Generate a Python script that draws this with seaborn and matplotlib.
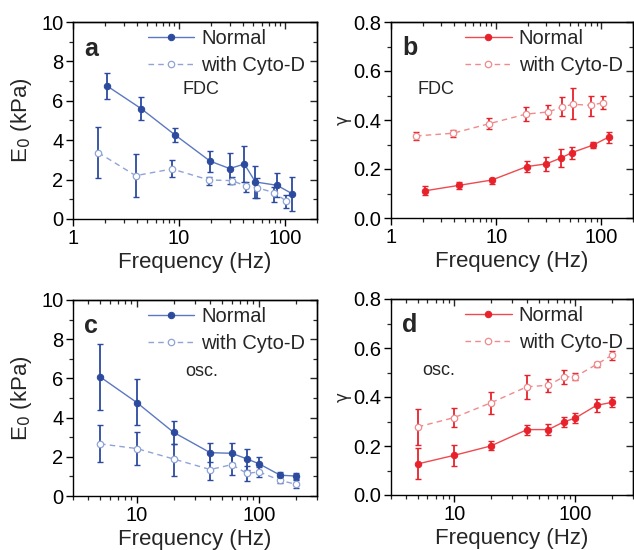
import numpy as np
import pandas as pd
import matplotlib
matplotlib.use("Agg")
import matplotlib.pyplot as plt
import seaborn as sns

# ---------------- data ----------------
# Panel a/b (FDC)
fdc_f_normal = [2.1, 4.4, 9.1, 19.6, 30.0, 41.3, 52.5, 84.0, 117.0]
fdc_f_cyto = [1.73, 3.9, 8.6, 19.2, 31.4, 42.6, 54.0, 79.0, 103.0]

a_normal = [6.75, 5.60, 4.28, 2.94, 2.56, 2.79, 1.88, 1.71, 1.28]
a_normal_hi = [7.40, 6.17, 4.61, 3.47, 3.34, 3.69, 2.69, 2.32, 2.15]
a_normal_lo = [6.08, 5.02, 3.93, 2.41, 1.78, 1.90, 1.05, 1.10, 0.41]
a_cyto = [3.37, 2.20, 2.54, 1.98, 1.95, 1.68, 1.59, 1.34, 0.90]
a_cyto_hi = [4.69, 3.29, 2.97, 2.15, 2.12, 1.90, 2.10, 1.64, 1.22]
a_cyto_lo = [2.07, 1.10, 2.12, 1.73, 1.78, 1.36, 1.05, 0.88, 0.54]

b_normal = [0.111, 0.133, 0.155, 0.210, 0.221, 0.245, 0.267, 0.298, 0.330]
b_normal_hi = [0.129, 0.145, 0.165, 0.232, 0.248, 0.280, 0.289, 0.309, 0.350]
b_normal_lo = [0.095, 0.118, 0.138, 0.186, 0.190, 0.207, 0.241, 0.285, 0.305]
b_cyto = [0.335, 0.346, 0.385, 0.424, 0.433, 0.454, 0.464, 0.460, 0.470]
b_cyto_hi = [0.353, 0.360, 0.407, 0.454, 0.460, 0.495, 0.529, 0.500, 0.497]
b_cyto_lo = [0.317, 0.330, 0.363, 0.397, 0.404, 0.415, 0.404, 0.417, 0.446]

# Panel c/d (oscillatory)
osc_f = [5, 10, 20, 40, 60, 80, 100, 150, 200]

c_normal = [6.08, 4.77, 3.25, 2.21, 2.18, 1.89, 1.65, 1.06, 1.02]
c_normal_hi = [7.73, 5.95, 3.83, 2.71, 2.71, 2.39, 1.99, 1.21, 1.18]
c_normal_lo = [4.41, 3.60, 2.67, 1.72, 1.67, 1.35, 1.29, 0.87, 0.85]
c_cyto = [2.66, 2.42, 1.89, 1.35, 1.60, 1.15, 1.23, 0.80, 0.60]
c_cyto_hi = [3.63, 3.25, 2.67, 2.13, 2.13, 1.52, 1.50, 0.97, 0.82]
c_cyto_lo = [1.74, 1.60, 1.00, 0.80, 1.09, 0.78, 0.97, 0.68, 0.41]

d_normal = [0.127, 0.162, 0.200, 0.267, 0.267, 0.298, 0.314, 0.366, 0.378]
d_normal_hi = [0.190, 0.205, 0.219, 0.287, 0.291, 0.318, 0.333, 0.390, 0.399]
d_normal_lo = [0.064, 0.118, 0.182, 0.244, 0.244, 0.276, 0.295, 0.340, 0.358]
d_cyto = [0.278, 0.316, 0.376, 0.442, 0.448, 0.482, 0.483, 0.533, 0.570]
d_cyto_hi = [0.350, 0.354, 0.419, 0.490, 0.472, 0.509, 0.497, 0.541, 0.587]
d_cyto_lo = [0.204, 0.276, 0.332, 0.393, 0.422, 0.452, 0.468, 0.524, 0.552]

series_labels = ["Normal", "with Cyto-D"]
panel_letters = ["a", "b", "c", "d"]
method_labels = ["FDC", "FDC", "osc.", "osc."]

# ---------------- style ----------------
sns.set_theme(style="ticks")
plt.rcParams["font.family"] = ["Liberation Sans", "DejaVu Sans"]
plt.rcParams["axes.linewidth"] = 1.0

BLUE_DARK = "#2c4a9e"
BLUE_LINE = "#5b78c2"
BLUE_LIGHT = "#8fa3d6"
RED_DARK = "#e8222b"
RED_LINE = "#ee4a4f"
RED_LIGHT = "#f08a8c"

fig = plt.figure(figsize=(6.34, 5.5), dpi=100)

W, H = 634.0, 550.0
def rect(l, r, t, b):
    return [l / W, (H - b) / H, (r - l) / W, (b - t) / H]

axes = [
    fig.add_axes(rect(73, 317, 22, 219)),
    fig.add_axes(rect(391, 633, 22, 218)),
    fig.add_axes(rect(73, 317, 300, 496)),
    fig.add_axes(rect(391, 633, 299, 495)),
]

panels = [
    (fdc_f_normal, a_normal, a_normal_lo, a_normal_hi, fdc_f_cyto, a_cyto, a_cyto_lo, a_cyto_hi),
    (fdc_f_normal, b_normal, b_normal_lo, b_normal_hi, fdc_f_cyto, b_cyto, b_cyto_lo, b_cyto_hi),
    (osc_f, c_normal, c_normal_lo, c_normal_hi, osc_f, c_cyto, c_cyto_lo, c_cyto_hi),
    (osc_f, d_normal, d_normal_lo, d_normal_hi, osc_f, d_cyto, d_cyto_lo, d_cyto_hi),
]

for i, (ax, p) in enumerate(zip(axes, panels)):
    fn, yn, ynl, ynh, fc, yc, ycl, ych = p
    is_E = i in (0, 2)
    dark, line, light = (BLUE_DARK, BLUE_LINE, BLUE_LIGHT) if is_E else (RED_DARK, RED_LINE, RED_LIGHT)

    # error bars
    ax.errorbar(fc, yc, yerr=[np.array(yc) - np.array(ycl), np.array(ych) - np.array(yc)],
                fmt="none", ecolor=dark, elinewidth=1.3, capsize=2.3, capthick=1.0, zorder=2)
    ax.errorbar(fn, yn, yerr=[np.array(yn) - np.array(ynl), np.array(ynh) - np.array(yn)],
                fmt="none", ecolor=dark, elinewidth=1.3, capsize=2.3, capthick=1.0, zorder=2)

    dfn = pd.DataFrame({"f": fn, "v": yn})
    dfc = pd.DataFrame({"f": fc, "v": yc})
    sns.lineplot(data=dfc, x="f", y="v", ax=ax, color=light, linewidth=1.0,
                 linestyle=(0, (4, 3)), marker="o", markersize=4.6, markerfacecolor="white",
                 markeredgecolor=light, markeredgewidth=0.9, label=series_labels[1], zorder=3,
                 estimator=None, sort=False)
    sns.lineplot(data=dfn, x="f", y="v", ax=ax, color=line, linewidth=1.0,
                 marker="o", markersize=4.6, markerfacecolor=dark, markeredgecolor=dark,
                 label=series_labels[0], zorder=4, estimator=None, sort=False)

    ax.set_xscale("log")
    if i < 2:
        ax.set_xlim(1, 200)
    else:
        ax.set_xlim(3, 300)
    if is_E:
        ax.set_ylim(0, 10)
        ax.set_yticks([0, 2, 4, 6, 8, 10])
        ax.set_yticks([1, 3, 5, 7, 9], minor=True)
        ax.set_ylabel("E$_0$ (kPa)", fontsize=16, labelpad=5)
    else:
        ax.set_ylim(0, 0.8)
        ax.set_yticks([0, 0.2, 0.4, 0.6, 0.8])
        ax.set_yticklabels(["0.0", "0.2", "0.4", "0.6", "0.8"])
        ax.set_yticks([0.1, 0.3, 0.5, 0.7], minor=True)
        ax.set_ylabel("γ", fontsize=12, labelpad=1, family=["DejaVu Sans"])
    ax.xaxis.set_major_formatter(matplotlib.ticker.FuncFormatter(lambda v, pos: f"{v:g}"))
    ax.xaxis.set_minor_formatter(matplotlib.ticker.NullFormatter())
    ax.set_xlabel("Frequency (Hz)", fontsize=16, labelpad=3)

    ax.tick_params(axis="both", which="major", direction="out", length=5, width=1.0,
                   labelsize=14.5, colors="black", pad=2)
    ax.tick_params(axis="both", which="minor", direction="out", length=3, width=0.9)
    for s in ax.spines.values():
        s.set_visible(True)
        s.set_color("black")

    # top / right inward ticks
    top = ax.secondary_xaxis("top")
    top.tick_params(axis="x", which="major", direction="in", length=5, width=1.0, labeltop=False)
    top.tick_params(axis="x", which="minor", direction="in", length=3, width=0.9)
    top.xaxis.set_major_formatter(matplotlib.ticker.NullFormatter())
    top.xaxis.set_minor_formatter(matplotlib.ticker.NullFormatter())
    right = ax.secondary_yaxis("right")
    right.set_yticks(ax.get_yticks())
    right.set_yticks(ax.get_yticks(minor=True), minor=True)
    right.tick_params(axis="y", which="major", direction="in", length=5, width=1.0, labelright=False)
    right.tick_params(axis="y", which="minor", direction="in", length=3, width=0.9)
    right.yaxis.set_major_formatter(matplotlib.ticker.NullFormatter())

    handles, labels = ax.get_legend_handles_labels()
    order = [labels.index("Normal"), labels.index("with Cyto-D")]
    ax.legend([handles[k] for k in order], [labels[k] for k in order],
              loc="upper left", bbox_to_anchor=(0.29, 0.985), frameon=False,
              fontsize=14.5, handlelength=2.3, handletextpad=0.35, labelspacing=0.42,
              borderpad=0.2, borderaxespad=0)

    ax.text(0.045, 0.865, panel_letters[i], transform=ax.transAxes, fontsize=18,
            fontweight="bold", ha="left", va="center")
    if i == 0:
        ax.text(0.45, 0.655, method_labels[i], transform=ax.transAxes, fontsize=13, ha="left", va="center")
    elif i == 1:
        ax.text(0.11, 0.655, method_labels[i], transform=ax.transAxes, fontsize=13, ha="left", va="center")
    elif i == 2:
        ax.text(0.46, 0.635, method_labels[i], transform=ax.transAxes, fontsize=13, ha="left", va="center")
    else:
        ax.text(0.13, 0.635, method_labels[i], transform=ax.transAxes, fontsize=13, ha="left", va="center")

fig.savefig("out.png", dpi=100)
